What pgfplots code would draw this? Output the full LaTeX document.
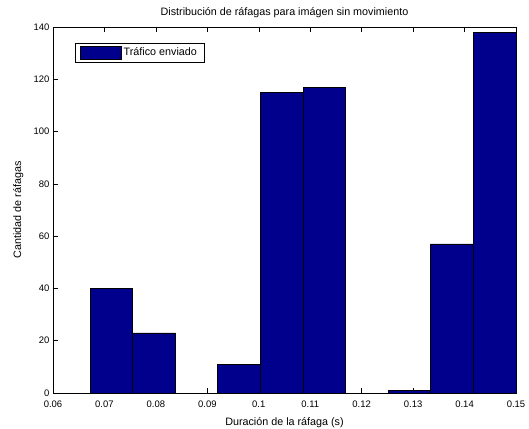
\documentclass[border=0pt]{standalone}
\usepackage{pgfplots}
\pgfplotsset{compat=1.18}
\usepackage{fontspec}
\setmainfont{Liberation Sans}
\definecolor{matnavy}{RGB}{0,0,140}
\begin{document}
\begin{tikzpicture}
\begin{axis}[
  scale only axis,
  width=463bp, height=366bp,
  xmin=0.06, xmax=0.15, ymin=0, ymax=140,
  xtick={0.06,0.07,0.08,0.09,0.1,0.11,0.12,0.13,0.14,0.15},
  xticklabels={0.06,0.07,0.08,0.09,0.1,0.11,0.12,0.13,0.14,0.15},
  ytick={0,20,40,60,80,100,120,140},
  tick align=inside,
  major tick length=5bp,
  /pgf/number format/assume math mode=true,
  tick label style={font=\fontsize{9.5}{11}\selectfont},
  xticklabel style={anchor=base, yshift=-14bp, inner sep=0pt},
  label style={font=\fontsize{10.8}{12}\selectfont},
  xlabel style={at={(axis description cs:0.5,0)}, anchor=base, yshift=-32bp, inner sep=0pt},
  ylabel style={at={(axis description cs:-0.0691,0.5)}, anchor=base, inner sep=0pt},
  title style={font=\fontsize{10.8}{12}\selectfont, at={(axis description cs:0.5,1)}, anchor=base, yshift=6bp, inner sep=0pt},
  title={Distribución de ráfagas para imágen sin movimiento},
  xlabel={Duración de la ráfaga (s)},
  ylabel={Cantidad de ráfagas},
  axis line style={line width=0.5bp},
  every tick/.style={black, line width=0.5bp},
  legend style={at={(0.0475,0.956)}, anchor=north west, draw=black, line width=0.5bp,
    font=\fontsize{10.8}{12}\selectfont, inner xsep=5bp, inner ysep=2.5bp},
  legend image code/.code={\draw[#1] (0bp,-6.5bp) rectangle (41bp,6.5bp);},
  legend cell align=left,
]
\addplot[ybar interval, fill=matnavy, draw=black, line width=0.5bp] coordinates {
(0.0672,40) (0.0755,23) (0.0838,0) (0.0920,11) (0.1003,115) (0.1086,117)
(0.1169,0) (0.1252,1) (0.1334,57) (0.1417,138) (0.15,0)};
\addlegendentry{Tráfico enviado}
\end{axis}
\useasboundingbox ([xshift=-53bp,yshift=-36bp]current axis.south west) rectangle ([xshift=13bp,yshift=27bp]current axis.north east);
\end{tikzpicture}
\end{document}
